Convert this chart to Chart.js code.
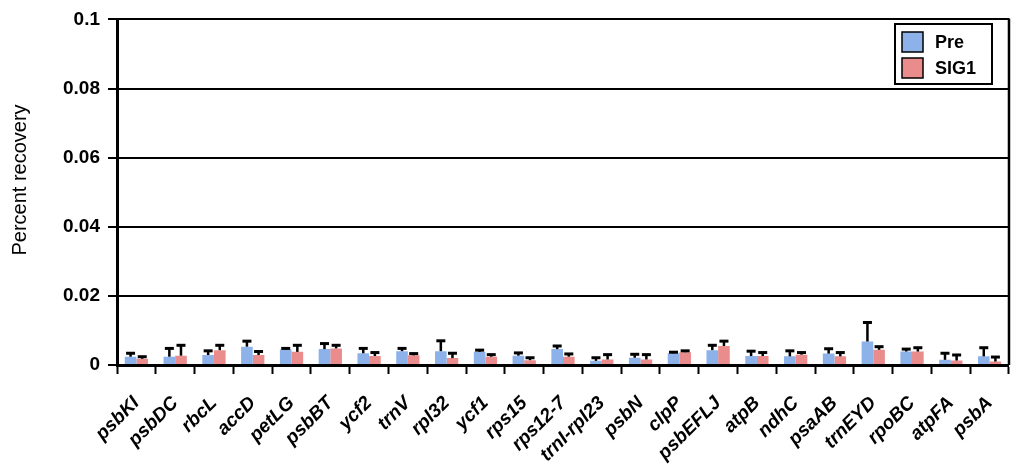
<!DOCTYPE html>
<html>
<head>
<meta charset="utf-8">
<script src="https://cdn.jsdelivr.net/npm/chart.js@4.4.1/dist/chart.umd.min.js"></script>
<style>
    html, body { margin: 0; padding: 0; background: #fff; }
    #wrap { width: 1024px; height: 472px; position: relative; }
</style>
</head>
<body>
<div id="wrap"><canvas id="recovery-chart" width="1024" height="472"></canvas></div>
<script>
const genes = ['psbKI', 'psbDC', 'rbcL', 'accD', 'petLG', 'psbBT', 'ycf2', 'trnV', 'rpl32', 'ycf1', 'rps15',
    'rps12-7', 'trnI-rpl23', 'psbN', 'clpP', 'psbEFLJ', 'atpB', 'ndhC', 'psaAB', 'trnEYD', 'rpoBC', 'atpFA', 'psbA'];

const preValues = [0.0024, 0.0024, 0.0029, 0.0053, 0.0045, 0.0046, 0.0034, 0.0040, 0.0040, 0.0038, 0.0027,
    0.0046, 0.0012, 0.0021, 0.0034, 0.0043, 0.0026, 0.0025, 0.0033, 0.0068, 0.0039, 0.0015, 0.0025];
const preErrors = [0.0010, 0.0024, 0.0012, 0.0016, 0.0003, 0.0016, 0.0014, 0.0008, 0.0030, 0.0005, 0.0008,
    0.0009, 0.0009, 0.0010, 0.0003, 0.0014, 0.0014, 0.0016, 0.0014, 0.0055, 0.0007, 0.0019, 0.0025];

const sig1Values = [0.0018, 0.0027, 0.0043, 0.0029, 0.0038, 0.0048, 0.0026, 0.0028, 0.0020, 0.0024, 0.0014,
    0.0024, 0.0016, 0.0016, 0.0037, 0.0055, 0.0026, 0.0030, 0.0025, 0.0044, 0.0039, 0.0013, 0.0010];
const sig1Errors = [0.0006, 0.0030, 0.0014, 0.0010, 0.0019, 0.0009, 0.0010, 0.0005, 0.0014, 0.0006, 0.0007,
    0.0008, 0.0014, 0.0014, 0.0004, 0.0014, 0.0010, 0.0006, 0.0011, 0.0009, 0.0011, 0.0016, 0.0013];

const seriesNames = ['Pre', 'SIG1'];
const seriesColors = ['#8db2ea', '#ea8c8c'];
const yTitle = 'Percent recovery';

const FONT = '"Liberation Sans", Arial, sans-serif';

// upward error bars with a cap
const errorBarPlugin = {
    id: 'errorBars',
    afterDatasetsDraw(chart) {
        const ctx = chart.ctx;
        const yScale = chart.scales.y;
        const errorSets = [preErrors, sig1Errors];
        ctx.save();
        ctx.strokeStyle = '#000';
        chart.data.datasets.forEach((dataset, di) => {
            const meta = chart.getDatasetMeta(di);
            meta.data.forEach((bar, i) => {
                const top = yScale.getPixelForValue(dataset.data[i] + errorSets[di][i]);
                ctx.lineWidth = 2.5;
                ctx.beginPath();
                ctx.moveTo(bar.x, bar.y);
                ctx.lineTo(bar.x, top);
                ctx.stroke();
                ctx.lineWidth = 3;
                ctx.beginPath();
                ctx.moveTo(bar.x - 4.5, top);
                ctx.lineTo(bar.x + 4.5, top);
                ctx.stroke();
            });
        });
        ctx.restore();
    }
};

// right frame line, y title and boxed legend inside the plot
const frameLegendPlugin = {
    id: 'frameLegend',
    afterDraw(chart) {
        const ctx = chart.ctx;
        const area = chart.chartArea;
        ctx.save();
        ctx.strokeStyle = '#000';
        ctx.lineWidth = 2.5;
        ctx.beginPath();
        ctx.moveTo(area.right, area.top - 1);
        ctx.lineTo(area.right, area.bottom);
        ctx.stroke();

        // y axis title
        ctx.save();
        ctx.translate(20, 180);
        ctx.rotate(-Math.PI / 2);
        ctx.font = '20px ' + FONT;
        ctx.fillStyle = '#000';
        ctx.textAlign = 'center';
        ctx.textBaseline = 'middle';
        ctx.fillText(yTitle, 0, 0);
        ctx.restore();

        // legend box
        const boxX = 895, boxY = 24, boxW = 97, boxH = 60;
        ctx.fillStyle = '#fff';
        ctx.fillRect(boxX, boxY, boxW, boxH);
        ctx.lineWidth = 2;
        ctx.strokeRect(boxX, boxY, boxW, boxH);

        ctx.font = 'bold 18px ' + FONT;
        ctx.textBaseline = 'middle';
        chart.data.datasets.forEach((dataset, i) => {
            const rowY = boxY + 18 + i * 26;
            ctx.fillStyle = dataset.backgroundColor;
            ctx.fillRect(boxX + 7, rowY - 10, 21, 20);
            ctx.lineWidth = 1.5;
            ctx.strokeRect(boxX + 7, rowY - 10, 21, 20);
            ctx.fillStyle = '#000';
            ctx.fillText(dataset.label, boxX + 40, rowY + 1);
        });
        ctx.restore();
    }
};

const canvas = document.querySelector('#recovery-chart');

new Chart(canvas, {
    type: 'bar',
    data: {
        labels: genes,
        datasets: [{
            label: seriesNames[0],
            data: preValues,
            backgroundColor: seriesColors[0],
            borderWidth: 0
        }, {
            label: seriesNames[1],
            data: sig1Values,
            backgroundColor: seriesColors[1],
            borderWidth: 0
        }]
    },
    options: {
        responsive: false,
        animation: false,
        layout: {
            padding: { top: 17, right: 13, left: 0, bottom: 0 }
        },
        datasets: {
            bar: {
                categoryPercentage: 0.6,
                barPercentage: 1.0
            }
        },
        scales: {
            x: {
                afterFit(scale) { scale.height = 107; },
                grid: {
                    offset: true,
                    drawOnChartArea: false,
                    drawTicks: true,
                    tickLength: 9,
                    tickWidth: 2,
                    tickColor: '#000'
                },
                border: { color: '#000', width: 3 },
                ticks: {
                    minRotation: 45,
                    maxRotation: 45,
                    autoSkip: false,
                    padding: 18,
                    color: '#000',
                    font: { family: FONT, size: 19, style: 'italic', weight: 'bold' }
                }
            },
            y: {
                min: 0,
                max: 0.1,
                afterFit(scale) { scale.width = 117; },
                grid: {
                    color: '#000',
                    lineWidth: 2,
                    drawTicks: true,
                    tickLength: 9,
                    tickColor: '#000'
                },
                border: { color: '#000', width: 3 },
                ticks: {
                    stepSize: 0.02,
                    padding: 8,
                    color: '#000',
                    font: { family: FONT, size: 19, weight: 'bold' },
                    callback: function (value) {
                        return String(+value.toFixed(2));
                    }
                }
            }
        },
        plugins: {
            legend: { display: false },
            tooltip: { enabled: false }
        }
    },
    plugins: [errorBarPlugin, frameLegendPlugin]
});
</script>
</body>
</html>
